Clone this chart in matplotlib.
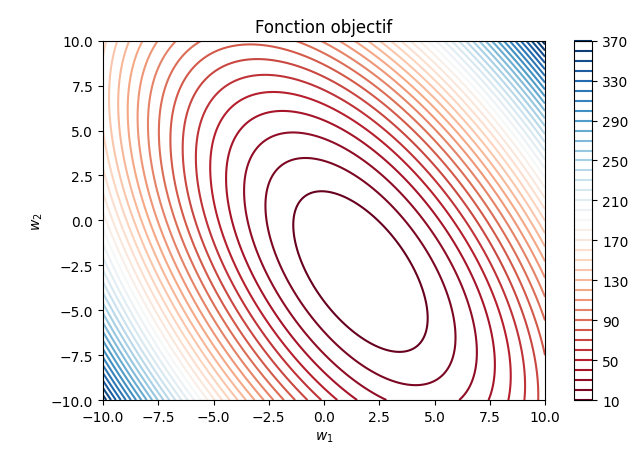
import numpy as np
import matplotlib
matplotlib.use("Agg")
import matplotlib.pyplot as plt

# quadratic objective: minimum position and coefficients
w_min = [1.65, -2.85]
coef_11 = 1.63
coef_12 = 0.643
coef_22 = 0.754
f_min = 0.0

levels = np.arange(10, 380, 10)
cbar_ticks = np.arange(10, 380, 40)
ticks = [-10.0, -7.5, -5.0, -2.5, 0.0, 2.5, 5.0, 7.5, 10.0]

w1 = np.linspace(-10, 10, 400)
w2 = np.linspace(-10, 10, 400)
W1, W2 = np.meshgrid(w1, w2)
d1 = W1 - w_min[0]
d2 = W2 - w_min[1]
Z = f_min + coef_11 * d1**2 + 2 * coef_12 * d1 * d2 + coef_22 * d2**2

fig = plt.figure(figsize=(6.37, 4.52), dpi=100)
ax = fig.add_axes([0.1617, 0.1128, 0.6939, 0.7949])
cax = fig.add_axes([0.9011, 0.1128, 0.0287, 0.7949])

cs = ax.contour(W1, W2, Z, levels=levels, cmap='RdBu')
ax.set_xticks(ticks)
ax.set_yticks(ticks)
ax.set_xlim(-10, 10)
ax.set_ylim(-10, 10)
ax.set_xlabel('$w_1$')
ax.set_ylabel('$w_2$')
ax.set_title('Fonction objectif')

cb = fig.colorbar(cs, cax=cax)
cb.set_ticks(cbar_ticks)

fig.savefig('out.png', dpi=100)
